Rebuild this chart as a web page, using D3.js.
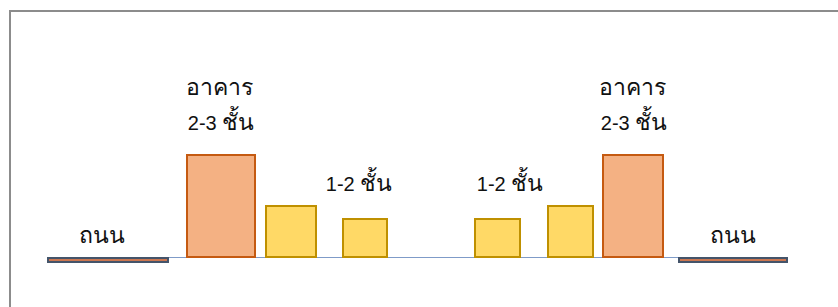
<!DOCTYPE html>
<html>
  <head>
    <meta charset="utf-8">
    <title>street section</title>
    <script src="https://d3js.org/d3.v7.min.js"></script>
    <style>
      body { margin: 0; background: #fff; }
      text { font-family: "Liberation Sans", Arial, sans-serif; font-size: 20px; fill: #111; }
      tspan.th { font-size: 23px; }
    </style>
  </head>
  <body>
    <div id="vis"></div>
    <script>
      var width = 838;
      var height = 307;

      // blocks along the section: start / end (units from left road edge) and height
      var kinds   = ["road", "tall", "low", "low", "low", "low", "tall", "road"];
      var starts  = [0, 139, 218, 295, 427, 500, 555, 631];
      var ends    = [120, 207, 268, 339, 472, 545, 615, 739];
      var heights = [0, 102, 51, 38, 38, 51, 102, 0];

      // labels: text, centre position, height of baseline
      var labelText = ["ถนน", "อาคาร", "2-3 ชั้น", "1-2 ชั้น", "1-2 ชั้น", "อาคาร", "2-3 ชั้น", "ถนน"];
      var labelX    = [54, 171, 173, 311, 462, 584, 586, 685];
      var labelY    = [14, 162, 127, 66, 66, 162, 127, 14];

      var fills   = { road: "#CB7650", tall: "#F4B183", low: "#FFD966" };
      var strokes = { road: "#44546A", tall: "#C55A11", low: "#BF9000" };

      var svg = d3.select("#vis")
        .append("svg")
        .attr("width", width)
        .attr("height", height);

      // frame (runs off right and bottom)
      svg.append("rect")
        .attr("x", 10).attr("y", 11)
        .attr("width", 840).attr("height", 310)
        .attr("fill", "none")
        .attr("stroke", "#8c8c8c")
        .attr("stroke-width", 2);

      var x = d3.scaleLinear().domain([0, 739]).range([48, 787]);
      var y = d3.scaleLinear().domain([0, 102]).range([257, 155]);

      var blocks = kinds.map(function (k, i) {
        return { kind: k, x0: starts[i], x1: ends[i], h: heights[i] };
      });

      // ground line
      svg.append("line")
        .attr("x1", x(ends[0])).attr("x2", x(starts[7]))
        .attr("y1", y(0) + 0.5).attr("y2", y(0) + 0.5)
        .attr("stroke", "#7F9BC8")
        .attr("stroke-width", 1.2);

      // buildings
      svg.append("g")
        .selectAll("rect")
        .data(blocks.filter(function (d) { return d.kind != "road"; }))
        .enter()
        .append("rect")
        .attr("x", function (d) { return x(d.x0); })
        .attr("y", function (d) { return y(d.h); })
        .attr("width", function (d) { return x(d.x1) - x(d.x0); })
        .attr("height", function (d) { return y(0) - y(d.h); })
        .style("fill", function (d) { return fills[d.kind]; })
        .style("stroke", function (d) { return strokes[d.kind]; })
        .style("stroke-width", 2);

      // roads: thin strip sitting on the ground line
      svg.append("g")
        .selectAll("rect")
        .data(blocks.filter(function (d) { return d.kind == "road"; }))
        .enter()
        .append("rect")
        .attr("x", function (d) { return x(d.x0); })
        .attr("y", y(0) + 1)
        .attr("width", function (d) { return x(d.x1) - x(d.x0); })
        .attr("height", 4)
        .style("fill", function (d) { return fills[d.kind]; })
        .style("stroke", function (d) { return strokes[d.kind]; })
        .style("stroke-width", 2);

      // labels, thai runs a bit bigger so they match the digits
      var labels = svg.append("g")
        .selectAll("text")
        .data(labelText)
        .enter()
        .append("text")
        .attr("x", function (d, i) { return x(labelX[i]); })
        .attr("y", function (d, i) { return y(labelY[i]); })
        .attr("text-anchor", "middle");

      labels.each(function (d) {
        var runs = d.match(/[\u0E00-\u0E7F]+|[^\u0E00-\u0E7F]+/g);
        d3.select(this).selectAll("tspan")
          .data(runs)
          .enter()
          .append("tspan")
          .attr("class", function (r) { return /[\u0E00-\u0E7F]/.test(r) ? "th" : null; })
          .text(function (r) { return r; });
      });
    </script>
  </body>
</html>
